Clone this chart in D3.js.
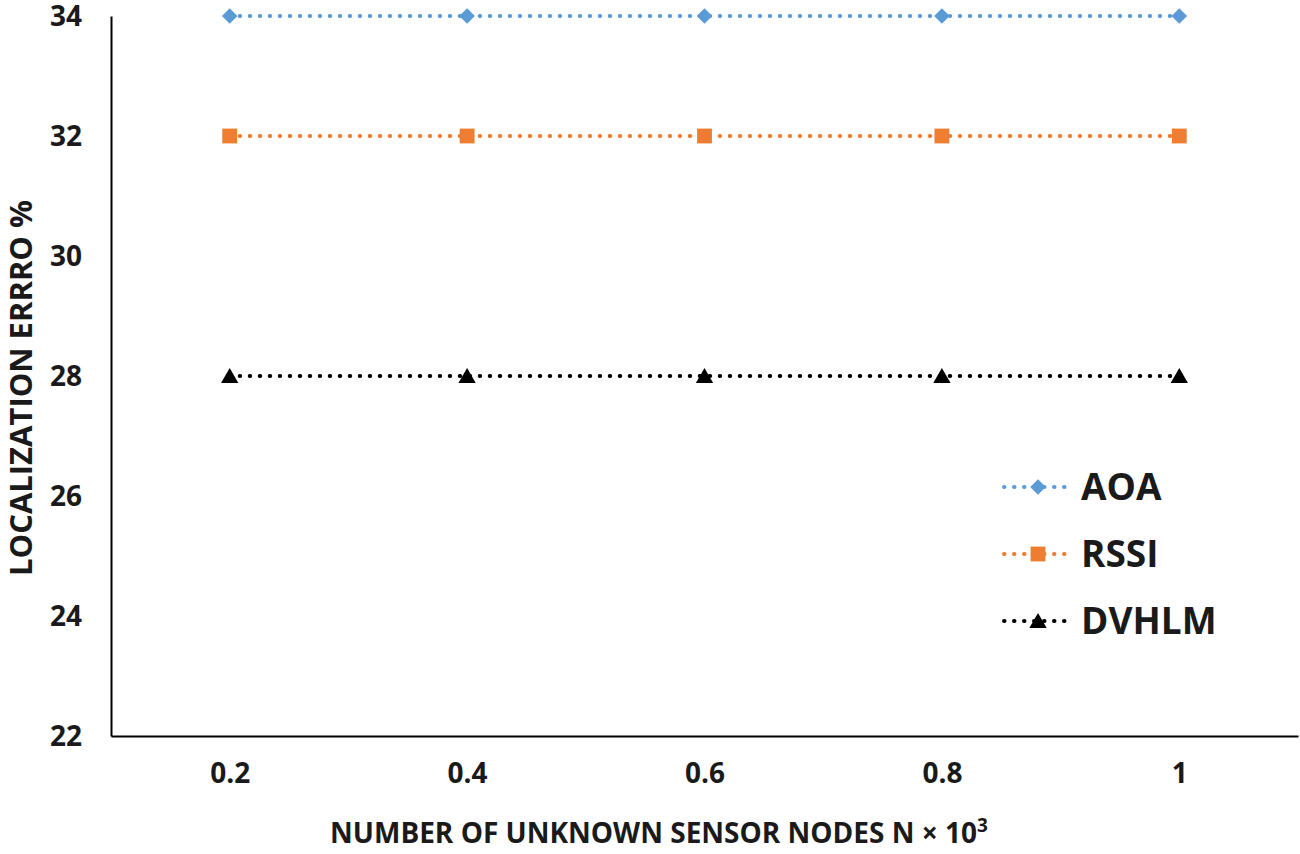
<!DOCTYPE html>
<html><head><meta charset="utf-8">
<script src="https://cdn.jsdelivr.net/npm/d3@7"></script>
<style>body{margin:0;background:#fff}svg{display:block}text{font-family:"Open Sans",Calibri,sans-serif;font-weight:bold;fill:#1a1a1a}</style>
</head><body>
<svg id="c" width="1300" height="854"></svg>
<script>
const categories = ["0.2","0.4","0.6","0.8","1"];
const aoa = [34,34,34,34,34];
const rssi = [32,32,32,32,32];
const dvhlm = [28,28,28,28,28];
const yTicks = [22,24,26,28,30,32,34];
const seriesNames = ["AOA","RSSI","DVHLM"];

const diamond = {draw(ctx,size){const r=Math.sqrt(size)/2*1.1;ctx.moveTo(0,-r);ctx.lineTo(r,0);ctx.lineTo(0,r);ctx.lineTo(-r,0);ctx.closePath();}};
const series = [
  {name:seriesNames[0], values:aoa, color:"#5B9BD5", sym:diamond, size:200, dy:0},
  {name:seriesNames[1], values:rssi, color:"#ED7D31", sym:d3.symbolSquare, size:220, dy:0},
  {name:seriesNames[2], values:dvhlm, color:"#000000", sym:d3.symbolTriangle, size:130, dy:2}
];

const svg = d3.select("#c");
const L=111, R=1298, T=16, B=736;
const x = d3.scalePoint().domain(categories).range([L,R]).padding(0.5);
const y = d3.scaleLinear().domain([22,34]).range([B,T]);

const ya = svg.append("g").attr("transform",`translate(${L},0)`)
  .call(d3.axisLeft(y).tickValues(yTicks).tickSize(0).tickPadding(29).tickFormat(d3.format("d")));
ya.select(".domain").attr("stroke","#000").attr("stroke-width",2);
ya.selectAll("text").style("font-size","28px").style("font-family",'"Open Sans",sans-serif').style("font-weight","bold").attr("fill","#1a1a1a").attr("dy","0.35em");

const xa = svg.append("g").attr("transform",`translate(0,${B})`)
  .call(d3.axisBottom(x).tickSize(0).tickPadding(27));
xa.select(".domain").attr("stroke","#000").attr("stroke-width",2);
xa.selectAll("text").style("font-size","28px").style("font-family",'"Open Sans",sans-serif').style("font-weight","bold").attr("fill","#1a1a1a");

const line = d3.line().x((d,i)=>x(categories[i])).y(d=>y(d));
series.forEach(s=>{
  svg.append("path").datum(s.values).attr("d",line).attr("fill","none")
    .attr("stroke",s.color).attr("stroke-width",4).attr("stroke-linecap","round").attr("stroke-dasharray","0.5,9.5");
  svg.selectAll(null).data(s.values).enter().append("path")
    .attr("d",d3.symbol().type(s.sym).size(s.size))
    .attr("transform",(d,i)=>`translate(${x(categories[i])},${y(d)+s.dy})`)
    .attr("fill",s.color);
});

const lg = svg.append("g");
series.forEach((s,i)=>{
  const cy = 487 + i*67;
  lg.append("line").attr("x1",1004).attr("x2",1066).attr("y1",cy).attr("y2",cy)
    .attr("stroke",s.color).attr("stroke-width",4).attr("stroke-linecap","round").attr("stroke-dasharray","0.5,9.5");
  lg.append("path").attr("d",d3.symbol().type(s.sym).size(s.size))
    .attr("transform",`translate(1038,${cy+s.dy})`).attr("fill",s.color);
  lg.append("text").attr("x",1081).attr("y",cy).attr("dy","0.36em").style("font-size","37px").text(s.name);
});

const xt = svg.append("text").attr("x",659).attr("y",843).attr("text-anchor","middle").style("font-size","28px");
xt.append("tspan").text("NUMBER OF UNKNOWN SENSOR NODES N × 10");
xt.append("tspan").attr("dy","-11").style("font-size","19px").text("3");

svg.append("text").attr("transform","translate(32,388) rotate(-90)").attr("text-anchor","middle").style("font-size","31px")
  .text("LOCALIZATION ERRRO %");
</script>
</body></html>
